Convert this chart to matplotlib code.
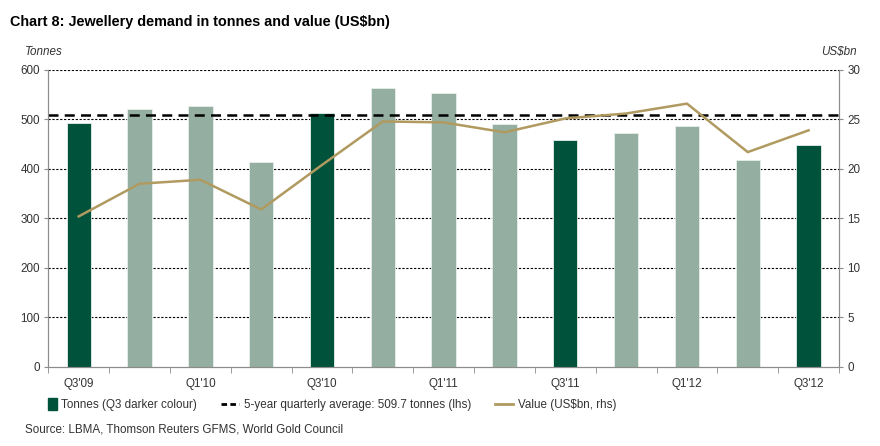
import matplotlib
matplotlib.use("Agg")
import matplotlib.pyplot as plt
from matplotlib.patches import Patch, Rectangle
from matplotlib.lines import Line2D
from matplotlib.legend_handler import HandlerPatch

quarters = ["Q3'09", "Q4'09", "Q1'10", "Q2'10", "Q3'10", "Q4'10", "Q1'11",
            "Q2'11", "Q3'11", "Q4'11", "Q1'12", "Q2'12", "Q3'12"]
tonnes = [493, 522, 528, 414, 514, 563, 553, 491, 458, 472, 487, 417, 449]
value_bn = [15.2, 18.5, 18.9, 15.9, 20.4, 24.8, 24.7, 23.7, 25.1, 25.6, 26.6, 21.7, 23.9]
avg_5yr = 509.7

dark = "#00533A"
light = "#94AFA2"
gold = "#B09A60"
grey = "#8C8C8C"
txt = "#333333"
fs = 8.4

plt.rcParams['font.family'] = ['Liberation Sans', 'DejaVu Sans']

fig = plt.figure(figsize=(8.8, 4.46), dpi=100)
ax = fig.add_axes([48.3 / 880, 1 - 366.7 / 446, (839 - 48.3) / 880, (366.7 - 70) / 446])

x = list(range(len(quarters)))
colors = [dark if q.startswith("Q3") else light for q in quarters]
ax.bar(x, tonnes, width=0.4, color=colors, edgecolor="#E8EEEB", linewidth=0.6, zorder=2)

ax.set_ylim(0, 600)
ax.set_xlim(-0.5, len(quarters) - 0.5)
ax.set_yticks(range(0, 601, 100))
for yv in range(100, 601, 100):
    ax.axhline(yv, color="black", linestyle=(0, (2, 1.5)), linewidth=0.8, zorder=1)
ax.axhline(avg_5yr, color="black", linestyle=(0, (4, 2.5)), linewidth=1.8, zorder=4)

ax2 = ax.twinx()
ax2.plot(x, value_bn, color=gold, linewidth=1.8, zorder=5)
ax2.set_ylim(0, 30)
ax2.set_yticks(range(0, 31, 5))

ax.set_xticks([i - 0.5 for i in range(len(quarters) + 1)], minor=True)
ax.set_xticks(x[::2])
ax.set_xticklabels(quarters[::2])
ax.tick_params(axis="x", which="major", length=0, pad=8, labelsize=fs, colors=txt)
ax.tick_params(axis="x", which="minor", length=4, color=grey, direction="out")
ax.tick_params(axis="y", length=3, color=grey, labelsize=fs, labelcolor=txt, pad=3)
ax2.tick_params(axis="y", length=3, color=grey, labelsize=fs, labelcolor=txt, pad=3)

for a in (ax, ax2):
    a.spines["top"].set_visible(False)
    for s in ("left", "right", "bottom"):
        a.spines[s].set_color(grey)
        a.spines[s].set_linewidth(0.8)

fig.text(10 / 880, 1 - 22 / 446, "Chart 8: Jewellery demand in tonnes and value (US$bn)",
         fontsize=10.4, fontweight="bold", va="center", ha="left")
fig.text(25 / 880, 1 - 52 / 446, "Tonnes", fontsize=fs, style="italic", va="center",
         ha="left", color=txt)
fig.text(857 / 880, 1 - 52 / 446, "US$bn", fontsize=fs, style="italic", va="center",
         ha="right", color=txt)


def small_box(legend, orig_handle, xdescent, ydescent, width, height, fontsize):
    h = height * 1.5
    w = h * 0.7
    return Rectangle((-xdescent + width - w, -ydescent - (h - height) / 2), w, h)


handles = [
    Patch(facecolor=dark, edgecolor=dark),
    Line2D([0], [0], color="black", linestyle=(0, (2, 1.2)), linewidth=2),
    Line2D([0], [0], color=gold, linewidth=2),
]
labels = ["Tonnes (Q3 darker colour)", "5-year quarterly average: 509.7 tonnes (lhs)",
          "Value (US$bn, rhs)"]
leg = fig.legend(handles, labels, loc="center left", bbox_to_anchor=(28 / 880, 1 - 405 / 446),
                 ncol=3, frameon=False, fontsize=fs, handlelength=1.55, handleheight=0.7,
                 handletextpad=0.4, columnspacing=2.05, labelcolor=txt,
                 handler_map={Patch: HandlerPatch(patch_func=small_box)})

fig.text(25 / 880, 1 - 430 / 446, "Source: LBMA, Thomson Reuters GFMS, World Gold Council",
         fontsize=fs, va="center", ha="left", color=txt)

fig.savefig("out.png", dpi=100)
